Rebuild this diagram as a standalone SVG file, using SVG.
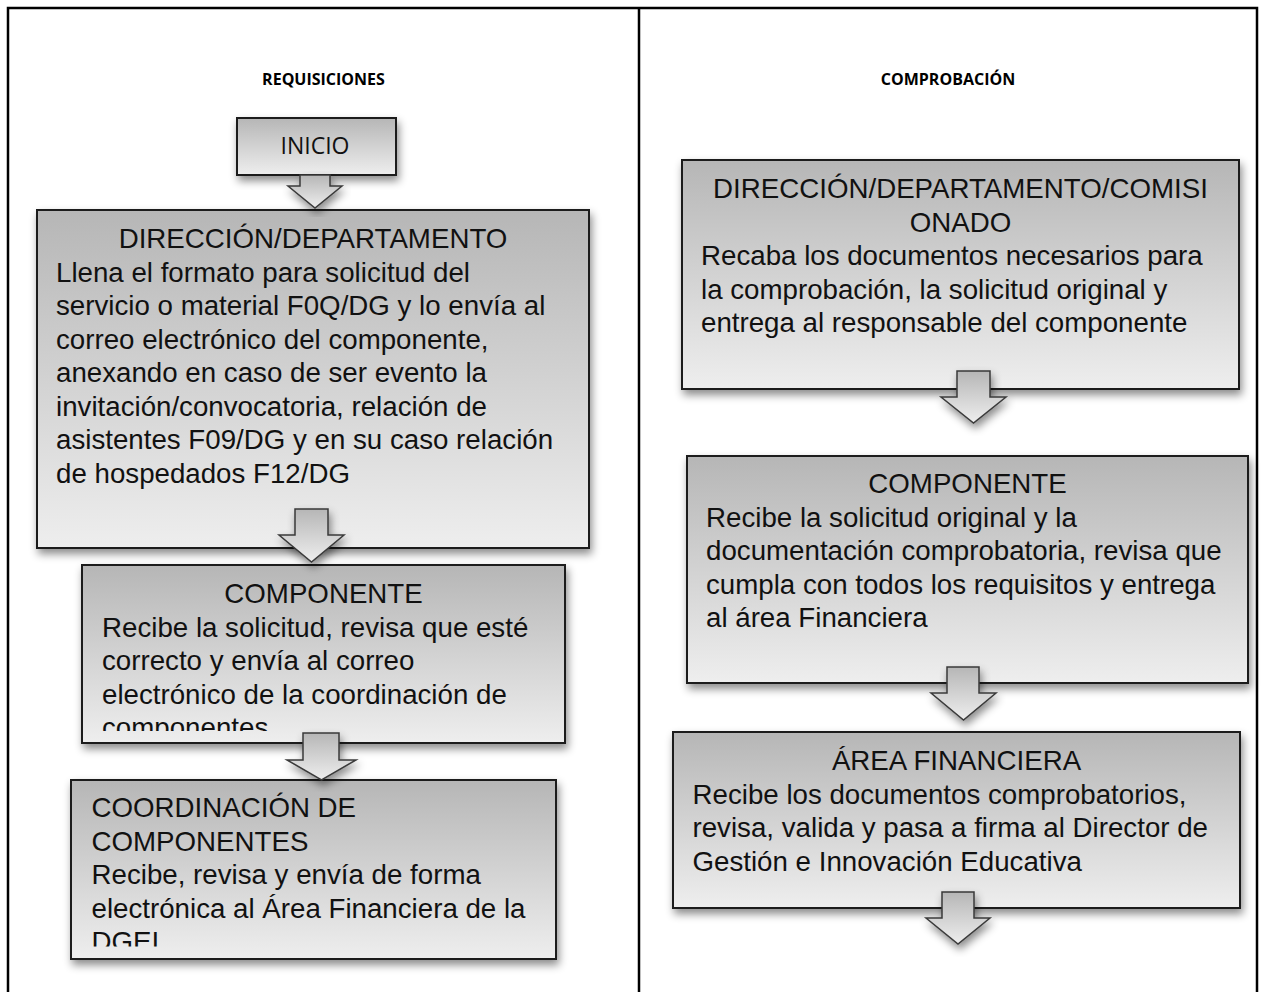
<svg xmlns="http://www.w3.org/2000/svg" width="1265" height="992" viewBox="0 0 1265 992">
<defs>
<linearGradient id="gf" x1="0" y1="0" x2="0" y2="1">
<stop offset="0" stop-color="#b6b6b6"/>
<stop offset="1" stop-color="#eeeeee"/>
</linearGradient>
<filter id="sh" x="-10%" y="-10%" width="125%" height="135%">
<feDropShadow dx="2" dy="5" stdDeviation="4" flood-color="#000" flood-opacity="0.45"/>
</filter>
<clipPath id="c1"><rect x="82" y="565" width="483" height="166"/></clipPath>
<clipPath id="c2"><rect x="71" y="780" width="485" height="166.5"/></clipPath>
</defs>
<style>
.box{fill:url(#gf);stroke:#1e1e1e;stroke-width:2;filter:url(#sh)}
.arr{fill:url(#gf);stroke:#3a3a3a;stroke-width:1.5;stroke-linejoin:miter;filter:url(#sh)}
.t{font-family:"Liberation Sans",Arial,sans-serif;font-size:27.7px;fill:#111}
.c{text-anchor:middle}
.h{font-family:"Open Sans","Liberation Sans",sans-serif;font-weight:bold;font-size:16px;fill:#000;text-anchor:middle}
.ini{font-family:"Open Sans","Liberation Sans",sans-serif;font-size:23px;fill:#111;text-anchor:middle}
</style>
<rect x="0" y="0" width="1265" height="992" fill="#fff"/>
<g id="frame" fill="none" stroke="#000" stroke-width="2.5">
<rect x="8" y="8" width="1249" height="1010"/>
<line x1="639" y1="8" x2="639" y2="992"/>
</g>
<g id="col-titles">
<text class="h" x="323.5" y="85">REQUISICIONES</text>
<text class="h" x="948" y="85">COMPROBACIÓN</text>
</g>
<g id="inicio">
<rect class="box" x="237" y="118" width="159" height="57"/>
<text class="ini" x="315" y="154">INICIO</text>
</g>
<g id="dir-dep">
<rect class="box" x="37" y="210" width="552" height="338"/>
<text class="t c" x="313" y="248">DIRECCIÓN/DEPARTAMENTO</text>
<text class="t" x="56" y="281.5">Llena el formato para solicitud del</text>
<text class="t" x="56" y="315">servicio o material F0Q/DG y lo envía al</text>
<text class="t" x="56" y="348.5">correo electrónico del componente,</text>
<text class="t" x="56" y="382">anexando en caso de ser evento la</text>
<text class="t" x="56" y="415.5">invitación/convocatoria, relación de</text>
<text class="t" x="56" y="449">asistentes F09/DG y en su caso relación</text>
<text class="t" x="56" y="482.5">de hospedados F12/DG</text>
</g>
<g id="componente-req">
<rect class="box" x="82" y="565" width="483" height="178"/>
<g clip-path="url(#c1)">
<text class="t c" x="323.5" y="603">COMPONENTE</text>
<text class="t" x="102" y="636.5">Recibe la solicitud, revisa que esté</text>
<text class="t" x="102" y="670">correcto y envía al correo</text>
<text class="t" x="102" y="703.5">electrónico de la coordinación de</text>
<text class="t" x="102" y="737">componentes</text>
</g>
</g>
<g id="coordinacion">
<rect class="box" x="71" y="780" width="485" height="179"/>
<g clip-path="url(#c2)">
<text class="t" x="91.5" y="817">COORDINACIÓN DE</text>
<text class="t" x="91.5" y="850.5">COMPONENTES</text>
<text class="t" x="91.5" y="884">Recibe, revisa y envía de forma</text>
<text class="t" x="91.5" y="917.5">electrónica al Área Financiera de la</text>
<text class="t" x="91.5" y="951">DGEI</text>
</g>
</g>
<g id="dir-dep-com">
<rect class="box" x="682" y="160" width="557" height="229"/>
<text class="t c" x="960.5" y="198">DIRECCIÓN/DEPARTAMENTO/COMISI</text>
<text class="t c" x="960.5" y="231.5">ONADO</text>
<text class="t" x="701" y="265">Recaba los documentos necesarios para</text>
<text class="t" x="701" y="298.5">la comprobación, la solicitud original y</text>
<text class="t" x="701" y="332">entrega al responsable del componente</text>
</g>
<g id="componente-comp">
<rect class="box" x="687" y="456" width="561" height="227"/>
<text class="t c" x="967.5" y="493">COMPONENTE</text>
<text class="t" x="706" y="526.5">Recibe la solicitud original y la</text>
<text class="t" x="706" y="560">documentación comprobatoria, revisa que</text>
<text class="t" x="706" y="593.5">cumpla con todos los requisitos y entrega</text>
<text class="t" x="706" y="627">al área Financiera</text>
</g>
<g id="area-financiera">
<rect class="box" x="673" y="732" width="567" height="176"/>
<text class="t c" x="956.5" y="770">ÁREA FINANCIERA</text>
<text class="t" x="692.5" y="803.5">Recibe los documentos comprobatorios,</text>
<text class="t" x="692.5" y="837">revisa, valida y pasa a firma al Director de</text>
<text class="t" x="692.5" y="870.5">Gestión e Innovación Educativa</text>
</g>
<g id="connectors">
<path class="arr" d="M300,175 L330,175 L330,186 L342,186 L315,208 L288,186 L300,186 Z"/>
<path class="arr" d="M295,509 L328,509 L328,535 L344,535 L311.5,562 L279,535 L295,535 Z"/>
<path class="arr" d="M303,733 L339,733 L339,760 L356,760 L321.5,780 L287,760 L303,760 Z"/>
<path class="arr" d="M957,371 L990,371 L990,397 L1006,397 L973.5,423 L941,397 L957,397 Z"/>
<path class="arr" d="M947,667 L979,667 L979,693 L996,693 L963.5,720 L931,693 L947,693 Z"/>
<path class="arr" d="M942,892 L974,892 L974,918 L990,918 L958,944 L926,918 L942,918 Z"/>
</g>
</svg>
